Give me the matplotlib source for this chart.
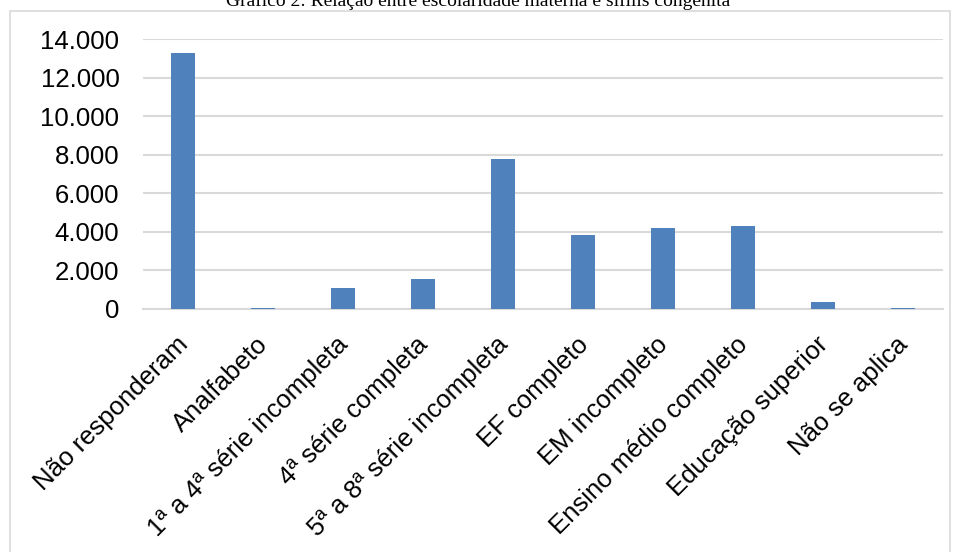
import matplotlib.pyplot as plt
from matplotlib.patches import Rectangle
from matplotlib.ticker import FuncFormatter
from matplotlib.transforms import ScaledTranslation

categorias = ["Não responderam", "Analfabeto", "1ª a 4ª série incompleta",
              "4ª série completa", "5ª a 8ª série incompleta", "EF completo",
              "EM incompleto", "Ensino médio completo", "Educação superior",
              "Não se aplica"]
casos = [13280, 40, 1060, 1530, 7780, 3820, 4190, 4310, 340, 35]
yticks = [0, 2000, 4000, 6000, 8000, 10000, 12000, 14000]

W, H = 957, 552
fig = plt.figure(figsize=(W / 100, H / 100), dpi=100)
plt.rcParams['font.family'] = ['Liberation Sans', 'DejaVu Sans']

# moldura do gráfico (cinza claro)
fig.patches.append(Rectangle((10 / W, -0.05), 940 / W, 1.05 - 11 / H,
                             transform=fig.transFigure, fill=False,
                             edgecolor='#d9d9d9', linewidth=1.2))

fig.text(0.5, 1 - 6 / H, "Gráfico 2: Relação entre escolaridade materna e sífilis congênita",
         ha='center', va='baseline', fontsize=14, family='Liberation Serif')

ax = fig.add_axes([143 / W, 1 - 308.7 / H, 800 / W, (308.7 - 39.3) / H])
x = range(len(categorias))
ax.bar(x, casos, width=0.3, color='#4f81bd', zorder=3)

ax.set_xlim(-0.5, len(categorias) - 0.5)
ax.set_ylim(0, 14000)
ax.set_yticks(yticks)
ax.yaxis.set_major_formatter(FuncFormatter(lambda v, p: f"{int(v):,}".replace(",", ".")))
ax.grid(axis='y', color='#d9d9d9', linewidth=1.5, zorder=0)
for s in ['top', 'right', 'left']:
    ax.spines[s].set_visible(False)
ax.spines['bottom'].set_color('#d9d9d9')
ax.spines['bottom'].set_linewidth(1.5)
ax.tick_params(axis='y', length=0, labelsize=18.5, pad=17)
ax.tick_params(axis='x', length=0, labelsize=18.5, pad=17)
ax.set_xticks(list(x))
ax.set_xticklabels(categorias, rotation=45, ha='right', rotation_mode='anchor')
# deslocamento leve para a esquerda, como no original
shift = ScaledTranslation(-7 / 100, 0, fig.dpi_scale_trans)
for lbl in ax.get_xticklabels():
    lbl.set_transform(lbl.get_transform() + shift)

fig.savefig('out.png', dpi=100)
